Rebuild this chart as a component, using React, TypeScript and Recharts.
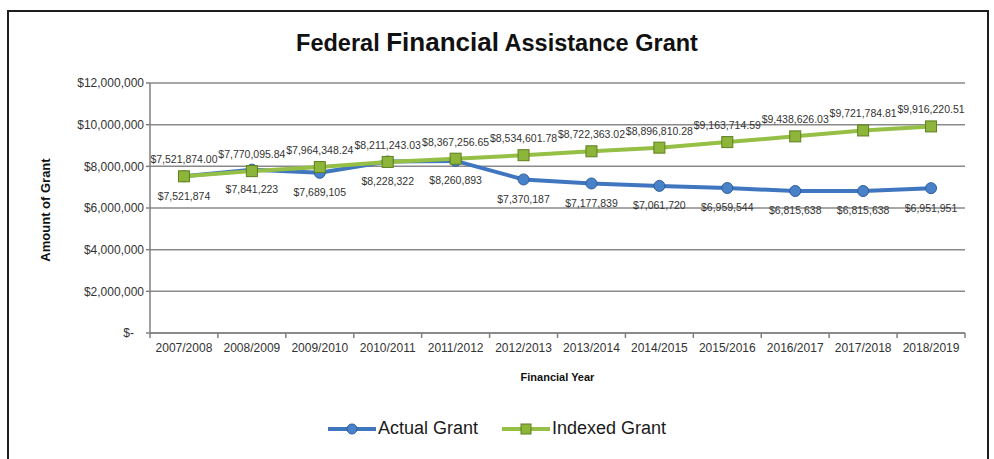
import React from "react";
import {
  LineChart,
  Line,
  XAxis,
  YAxis,
  CartesianGrid,
  Legend,
  LabelList,
} from "recharts";

const YEARS = [
  "2007/2008",
  "2008/2009",
  "2009/2010",
  "2010/2011",
  "2011/2012",
  "2012/2013",
  "2013/2014",
  "2014/2015",
  "2015/2016",
  "2016/2017",
  "2017/2018",
  "2018/2019",
];

const ACTUAL_GRANT = [
  7521874, 7841223, 7689105, 8228322, 8260893, 7370187, 7177839, 7061720,
  6959544, 6815638, 6815638, 6951951,
];

const INDEXED_GRANT = [
  7521874.0, 7770095.84, 7964348.24, 8211243.03, 8367256.65, 8534601.78,
  8722363.02, 8896810.28, 9163714.59, 9438626.03, 9721784.81, 9916220.51,
];

const Y_TICKS = [0, 2000000, 4000000, 6000000, 8000000, 10000000, 12000000];

const FONT = '"Liberation Sans", Arial, sans-serif';
const BLUE = "#3f76bf";
const GREEN = "#95bf45";

const W = 994;
const H = 459;
const PLOT_LEFT = 150;
const PLOT_RIGHT = 965;
const BAND = (PLOT_RIGHT - PLOT_LEFT) / YEARS.length;

const data = YEARS.map((year, i) => ({
  year,
  actual: ACTUAL_GRANT[i],
  indexed: INDEXED_GRANT[i],
}));

const money = (v: number, digits: number) =>
  "$" +
  v.toLocaleString("en-US", {
    minimumFractionDigits: digits,
    maximumFractionDigits: digits,
  });

function XTick(props: any) {
  const { x, y, payload, index } = props;
  const left = x - BAND / 2;
  return (
    <g>
      <line x1={left} y1={y - 8} x2={left} y2={y - 3} stroke="#808080" strokeWidth={1.5} />
      {index === YEARS.length - 1 && (
        <line x1={left + BAND} y1={y - 8} x2={left + BAND} y2={y - 3} stroke="#808080" strokeWidth={1.5} />
      )}
      <text
        x={x}
        y={y + 11}
        textAnchor="middle"
        fill="#333"
        fontSize={12}
        fontFamily={FONT}
      >
        {payload.value}
      </text>
    </g>
  );
}

function LegendContent() {
  const items = [
    { label: "Actual Grant", color: BLUE, square: false },
    { label: "Indexed Grant", color: GREEN, square: true },
  ];
  return (
    <div style={{ display: "flex", justifyContent: "center", gap: 24 }}>
      {items.map((it) => (
        <div key={it.label} style={{ display: "flex", alignItems: "center" }}>
          <svg width={48} height={14} style={{ marginRight: 2 }}>
            <line x1={0} y1={7} x2={48} y2={7} stroke={it.color} strokeWidth={4} />
            {it.square ? (
              <rect x={19} y={2} width={10} height={10} fill="#8cb53a" stroke="#5f7f20" />
            ) : (
              <circle cx={24} cy={7} r={5} fill="#4a82c9" stroke="#2c5d9c" />
            )}
          </svg>
          <span style={{ fontFamily: FONT, fontSize: 18, color: "#1a1a1a" }}>
            {it.label}
          </span>
        </div>
      ))}
    </div>
  );
}

export default function App() {
  return (
    <div
      style={{
        position: "absolute",
        left: 0,
        top: 0,
        width: W,
        height: H,
        background: "#fff",
        overflow: "hidden",
      }}
    >
      <div
        style={{
          position: "absolute",
          left: 7,
          top: 10,
          width: 978,
          height: 470,
          border: "2.5px solid #1e1e1e",
        }}
      />
      <div
        style={{
          position: "absolute",
          left: 0,
          top: 27,
          width: W,
          textAlign: "center",
          fontFamily: FONT,
          fontWeight: "bold",
          fontSize: 23.5,
          color: "#111",
          whiteSpace: "nowrap",
        }}
      >
        Federal <span style={{ fontSize: 26 }}>Financial</span> Assistance Grant
      </div>
      <div
        style={{
          position: "absolute",
          left: 45,
          top: 210,
          transform: "translate(-50%, -50%) rotate(-90deg)",
          fontFamily: FONT,
          fontWeight: "bold",
          fontSize: 13,
          color: "#111",
          whiteSpace: "nowrap",
        }}
      >
        Amount of Grant
      </div>
      <div style={{ position: "absolute", left: 0, top: 0 }}>
        <LineChart
          width={W}
          height={H}
          data={data}
          margin={{ top: 83, right: W - PLOT_RIGHT, bottom: 76, left: 50 }}
        >
          <CartesianGrid vertical={false} stroke="#8a8a8a" strokeWidth={1.5} />
          <XAxis
            dataKey="year"
            scale="band"
            height={50}
            axisLine={{ stroke: "#808080", strokeWidth: 1.5 }}
            tickLine={false}
            tick={<XTick />}
            interval={0}
            label={{
              value: "Financial Year",
              position: "insideBottom",
              offset: 2,
              style: { fontFamily: FONT, fontWeight: "bold", fontSize: 11, fill: "#111" },
            }}
          />
          <YAxis
            width={100}
            domain={[0, 12000000]}
            ticks={Y_TICKS}
            interval={0}
            axisLine={{ stroke: "#808080", strokeWidth: 1.5 }}
            tickLine={{ stroke: "#808080", strokeWidth: 1.5 }}
            tickSize={4}
            tick={{ fill: "#333", fontSize: 12, fontFamily: FONT }}
            tickFormatter={(v: number) =>
              v === 0 ? "$-\u00a0\u00a0\u00a0" : money(v, 0)
            }
          />
          <Legend
            layout="horizontal"
            verticalAlign="middle"
            align="center"
            wrapperStyle={{ top: 418, left: 0, width: W }}
            content={<LegendContent />}
          />
          <Line
            type="linear"
            dataKey="actual"
            name="Actual Grant"
            stroke={BLUE}
            strokeWidth={4}
            isAnimationActive={false}
            dot={(p: any) => (
              <circle
                key={`a-${p.index}`}
                cx={p.cx}
                cy={p.cy}
                r={5.5}
                fill="#4a82c9"
                stroke="#2c5d9c"
                strokeWidth={1}
              />
            )}
          >
            <LabelList
              dataKey="actual"
              position="bottom"
              offset={16}
              formatter={(v: any) => money(Number(v), 0)}
              style={{ fill: "#333", fontSize: 10.5, fontFamily: FONT }}
            />
          </Line>
          <Line
            type="linear"
            dataKey="indexed"
            name="Indexed Grant"
            stroke={GREEN}
            strokeWidth={4}
            isAnimationActive={false}
            dot={(p: any) => (
              <rect
                key={`i-${p.index}`}
                x={p.cx - 5.5}
                y={p.cy - 5.5}
                width={11}
                height={11}
                fill="#8cb53a"
                stroke="#5f7f20"
                strokeWidth={1}
              />
            )}
          >
            <LabelList
              dataKey="indexed"
              position="top"
              offset={13}
              formatter={(v: any) => money(Number(v), 2)}
              style={{ fill: "#333", fontSize: 10.5, fontFamily: FONT }}
            />
          </Line>
        </LineChart>
      </div>
    </div>
  );
}
